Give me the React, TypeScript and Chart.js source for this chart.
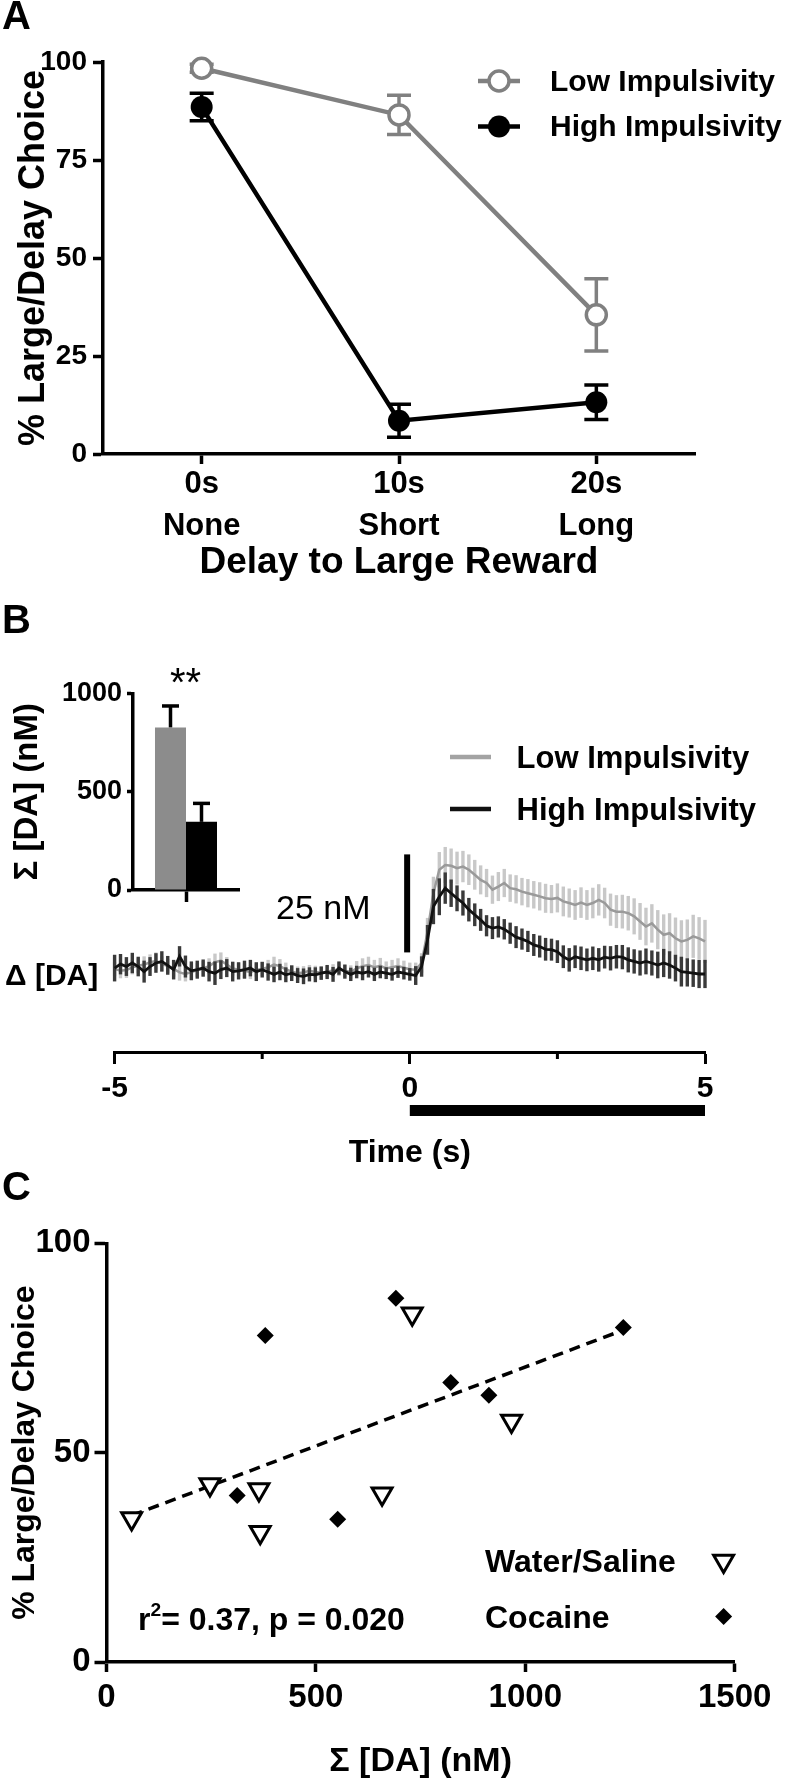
import React, { useEffect, useRef } from 'react';
import { Chart, registerables } from 'chart.js';

Chart.register(...registerables);

const FONT = "'Liberation Sans', Arial, Helvetica, sans-serif";
Chart.defaults.font.family = FONT;
Chart.defaults.color = '#000';

// ---------------- Panel A ----------------
const delayCategories = [['0s', 'None'], ['10s', 'Short'], ['20s', 'Long']];
const lowImpChoice = [98.4, 86.5, 35.5];
const lowImpSem = [1.0, 5.0, 9.2];
const highImpChoice = [88.5, 8.5, 13.2];
const highImpSem = [3.5, 4.2, 4.4];

// ---------------- Panel B inset ----------------
const insetGroups = ['Low Impulsivity', 'High Impulsivity'];
const insetSumDA = [827, 347];
const insetSumSem = [110, 94];

// ---------------- Panel B traces ----------------
const traceTime = [
  -5, -4.9, -4.8, -4.7, -4.6, -4.5, -4.4, -4.3, -4.2, -4.1,
  -4, -3.9, -3.8, -3.7, -3.6, -3.5, -3.4, -3.3, -3.2, -3.1,
  -3, -2.9, -2.8, -2.7, -2.6, -2.5, -2.4, -2.3, -2.2, -2.1,
  -2, -1.9, -1.8, -1.7, -1.6, -1.5, -1.4, -1.3, -1.2, -1.1,
  -1, -0.9, -0.8, -0.7, -0.6, -0.5, -0.4, -0.3, -0.2, -0.1,
  0, 0.1, 0.2, 0.3, 0.4, 0.5, 0.6, 0.7, 0.8, 0.9,
  1, 1.1, 1.2, 1.3, 1.4, 1.5, 1.6, 1.7, 1.8, 1.9,
  2, 2.1, 2.2, 2.3, 2.4, 2.5, 2.6, 2.7, 2.8, 2.9,
  3, 3.1, 3.2, 3.3, 3.4, 3.5, 3.6, 3.7, 3.8, 3.9,
  4, 4.1, 4.2, 4.3, 4.4, 4.5, 4.6, 4.7, 4.8, 4.9,
  5,
];
const highTrace = [
  0.7, 1.7, 1.1, 2.0, 1.1, -0.2, 1.1, 2.0, 2.4, 1.4,
  0.3, 3.7, 1.1, 0.0, 0.3, 0.7, -0.2, -0.6, 0.3, 0.7,
  -0.2, 0.0, 0.3, 0.7, -0.2, 0.3, -0.3, -0.9, -0.3, -1.0,
  -0.6, -1.2, -1.4, -0.9, -1.0, -0.6, -0.3, -0.9, 0.7, -0.2,
  -0.9, -0.3, -0.6, -0.2, -0.9, -0.3, -0.6, -0.9, -0.3, -0.6,
  -0.9, -1.2, 1.1, 7.9, 16.4, 18.9, 21.1, 19.8, 18.5, 17.3,
  15.6, 14.3, 13.0, 11.5, 10.9, 11.2, 10.6, 9.6, 8.6, 8.1,
  7.5, 6.6, 6.2, 5.5, 5.4, 4.9, 3.6, 2.8, 3.6, 3.2,
  2.8, 3.2, 2.8, 3.5, 3.2, 3.6, 3.5, 2.8, 2.4, 2.0,
  2.4, 2.0, 1.5, 2.0, 1.5, 0.7, -0.2, -0.4, -0.6, -0.8,
  -0.8,
];
const highTraceSem = [
  3.4, 2.6, 2.4, 2.6, 2.5, 2.8, 2.4, 2.5, 2.6, 2.4,
  2.5, 2.6, 2.8, 2.4, 2.3, 2.2, 2.5, 3.0, 2.4, 2.3,
  2.5, 2.2, 2.3, 2.1, 2.4, 2.0, 2.2, 2.0, 2.1, 1.9,
  2.0, 1.9, 2.0, 1.8, 1.9, 1.7, 1.8, 1.9, 1.7, 1.8,
  1.7, 1.6, 1.8, 1.5, 1.7, 1.6, 1.5, 1.6, 1.5, 1.6,
  1.6, 2.4, 2.6, 3.8, 4.5, 4.7, 4.0, 3.5, 3.3, 3.2,
  3.0, 2.9, 2.8, 2.7, 2.8, 2.7, 2.6, 2.7, 2.8, 2.7,
  2.7, 2.8, 2.8, 2.9, 2.8, 2.9, 2.9, 3.0, 2.9, 3.0,
  2.9, 3.0, 3.0, 2.9, 3.1, 3.0, 3.1, 3.2, 3.1, 3.2,
  3.3, 3.2, 3.4, 3.6, 3.5, 3.4, 3.8, 3.6, 3.5, 3.6,
  3.6,
];
const lowTrace = [
  0.5, 0.0, 0.2, 0.9, 1.3, 1.6, 2.2, 2.5, 1.8, 1.2,
  0.5, -0.4, -0.8, -0.3, 0.2, 0.6, 1.2, 2.2, 2.6, 1.6,
  0.6, 0.3, 0.0, -0.3, 0.2, 0.5, 0.9, 1.6, 1.2, 0.4,
  -0.2, -0.6, -0.4, 0.0, -0.3, -0.5, -0.2, 0.1, 0.4, 0.0,
  -0.3, 0.6, 1.2, 1.5, 0.9, 1.3, 0.6, 0.9, 1.2, 0.8,
  0.4, 0.3, 2.0, 10.0, 19.8, 25.8, 27.0, 26.8, 26.2, 26.6,
  25.8, 24.5, 23.2, 22.4, 20.7, 21.5, 22.4, 21.1, 20.8, 20.2,
  19.8, 19.4, 19.0, 18.5, 18.3, 18.6, 17.7, 17.3, 16.8, 17.4,
  16.8, 17.3, 18.1, 17.3, 15.6, 15.1, 15.1, 14.7, 13.9, 12.6,
  11.3, 12.1, 10.5, 9.2, 9.6, 8.3, 7.5, 7.9, 8.8, 8.3,
  7.5,
];
const lowTraceSem = [
  1.8, 1.9, 2.0, 1.8, 1.9, 2.1, 2.0, 2.2, 1.9, 1.8,
  2.0, 2.1, 1.9, 2.0, 1.8, 1.9, 2.0, 2.2, 2.1, 1.9,
  1.8, 1.7, 1.9, 1.8, 1.7, 1.8, 1.9, 2.0, 1.8, 1.7,
  1.6, 1.7, 1.6, 1.5, 1.6, 1.7, 1.5, 1.6, 1.7, 1.6,
  1.7, 1.9, 2.0, 2.1, 1.9, 2.0, 1.8, 1.9, 2.0, 1.8,
  1.7, 1.8, 2.5, 3.5, 4.2, 4.5, 4.6, 4.4, 4.2, 4.0,
  3.9, 3.8, 3.7, 3.6, 3.6, 3.7, 3.6, 3.5, 3.6, 3.5,
  3.6, 3.5, 3.6, 3.7, 3.6, 3.7, 3.8, 3.7, 3.8, 3.9,
  3.8, 3.9, 4.0, 3.9, 4.1, 4.2, 4.3, 4.4, 4.6, 4.7,
  4.8, 4.9, 5.0, 5.2, 5.1, 5.3, 5.4, 5.2, 5.5, 5.4,
  5.5,
];
const scaleBarTime = [-0.045, -0.045];
const scaleBarNm = [4.7, 29.7];
const stimulusWindow = [0, 5];
const timeTickLabels = [-5, 0, 5];
const minorTimeTicks = [-2.5, 2.5];

// ---------------- Panel C ----------------
const salineDA = [60, 247, 364, 367, 658, 730, 967];
const salineChoice = [34.3, 42.4, 41.2, 31.0, 40.2, 83.2, 57.6];
const cocaineDA = [379, 312, 552, 691, 822, 913, 1234];
const cocaineChoice = [78.0, 39.8, 34.1, 86.9, 66.8, 63.7, 79.9];
const fitDA = [60, 1234];
const fitChoice = [35.0, 79.3];

// ---------------- helpers ----------------
const GRAY_A = '#808080';
const plain = (v: number | string) => String(v);

type ErrSpec = { index: number; err: number[]; color: string; width: number; cap: number; upOnly?: boolean };

function errorBarPlugin(id: string, specs: ErrSpec[]) {
  return {
    id,
    beforeDatasetDraw(chart: any, args: any) {
      const spec = specs.find((s) => s.index === args.index);
      if (!spec) return;
      const meta = chart.getDatasetMeta(args.index);
      const yScale = chart.scales[meta.yAxisID];
      const ds = chart.data.datasets[args.index];
      const ctx = chart.ctx;
      ctx.save();
      ctx.strokeStyle = spec.color;
      ctx.lineWidth = spec.width;
      ctx.lineCap = 'butt';
      meta.data.forEach((el: any, i: number) => {
        const raw = ds.data[i];
        const v = typeof raw === 'number' ? raw : raw.y;
        const e = spec.err[i];
        const x = el.x;
        const yTop = yScale.getPixelForValue(v + e);
        const yBot = spec.upOnly ? yScale.getPixelForValue(v) : yScale.getPixelForValue(v - e);
        ctx.beginPath();
        ctx.moveTo(x, yTop);
        ctx.lineTo(x, yBot);
        ctx.stroke();
        if (spec.cap > 0) {
          ctx.beginPath();
          ctx.moveTo(x - spec.cap / 2, yTop);
          ctx.lineTo(x + spec.cap / 2, yTop);
          if (!spec.upOnly) {
            ctx.moveTo(x - spec.cap / 2, yBot);
            ctx.lineTo(x + spec.cap / 2, yBot);
          }
          ctx.stroke();
        }
      });
      ctx.restore();
    },
  };
}

const axisGrid = (len: number, w = 3.5) => ({
  drawOnChartArea: false,
  drawTicks: true,
  tickLength: len,
  tickWidth: w,
  tickColor: '#000',
});
const axisBorder = (w = 3.5) => ({ display: true, width: w, color: '#000' });

// ---------------- configs ----------------
function configA(): any {
  const legendA = {
    id: 'legendA',
    afterDraw(chart: any) {
      const ctx = chart.ctx;
      ctx.save();
      ctx.strokeStyle = GRAY_A;
      ctx.lineWidth = 4.5;
      ctx.beginPath();
      ctx.moveTo(478, 81);
      ctx.lineTo(520, 81);
      ctx.stroke();
      ctx.fillStyle = '#fff';
      ctx.lineWidth = 3.5;
      ctx.beginPath();
      ctx.arc(499, 81, 10, 0, Math.PI * 2);
      ctx.fill();
      ctx.stroke();
      ctx.strokeStyle = '#000';
      ctx.lineWidth = 4.5;
      ctx.beginPath();
      ctx.moveTo(478, 126.5);
      ctx.lineTo(520, 126.5);
      ctx.stroke();
      ctx.fillStyle = '#000';
      ctx.beginPath();
      ctx.arc(499, 126.5, 11, 0, Math.PI * 2);
      ctx.fill();
      ctx.restore();
    },
  };
  return {
    type: 'line',
    data: {
      labels: delayCategories,
      datasets: [
        {
          label: 'High Impulsivity',
          data: highImpChoice,
          borderColor: '#000',
          borderWidth: 4.5,
          pointRadius: 11,
          pointBorderWidth: 0,
          pointBackgroundColor: '#000',
          pointBorderColor: '#000',
          clip: false,
        },
        {
          label: 'Low Impulsivity',
          data: lowImpChoice,
          borderColor: GRAY_A,
          borderWidth: 4.5,
          pointRadius: 10,
          pointBorderWidth: 3.5,
          pointBackgroundColor: '#fff',
          pointBorderColor: GRAY_A,
          clip: false,
        },
      ],
    },
    options: {
      animation: false,
      responsive: false,
      layout: { padding: { top: 62, right: 93, left: 0, bottom: 0 } },
      plugins: { legend: { display: false }, tooltip: { enabled: false } },
      scales: {
        x: {
          type: 'category',
          offset: true,
          border: axisBorder(),
          grid: axisGrid(10),
          ticks: { color: '#000', font: { size: 31, weight: 'bold', lineHeight: 1.35 }, padding: 0, maxRotation: 0, autoSkip: false },
          title: { display: true, text: 'Delay to Large Reward', color: '#000', font: { size: 37, weight: 'bold' }, padding: { top: 0, bottom: 5 } },
          afterFit: (s: any) => { s.height = 136; },
        },
        y: {
          min: 0,
          max: 100,
          border: axisBorder(),
          grid: axisGrid(10),
          ticks: { stepSize: 25, color: '#000', font: { size: 28, weight: 'bold' }, padding: 6, callback: plain },
          title: { display: true, text: '% Large/Delay Choice', color: '#000', font: { size: 36, weight: 'bold' }, padding: { top: 12, bottom: 0 } },
          afterFit: (s: any) => { s.width = 103; },
        },
      },
    },
    plugins: [
      errorBarPlugin('errA', [
        { index: 0, err: highImpSem, color: '#000', width: 3.5, cap: 24 },
        { index: 1, err: lowImpSem, color: GRAY_A, width: 3.5, cap: 24 },
      ]),
      legendA,
    ],
  };
}

function configInset(): any {
  return {
    type: 'bar',
    data: {
      labels: [''],
      datasets: [
        { label: insetGroups[0], data: [insetSumDA[0]], backgroundColor: '#8c8c8c', barPercentage: 1, categoryPercentage: 0.585 },
        { label: insetGroups[1], data: [insetSumDA[1]], backgroundColor: '#000', barPercentage: 1, categoryPercentage: 0.585 },
      ],
    },
    options: {
      animation: false,
      responsive: false,
      layout: { padding: { top: 53.6, right: 21, left: 0, bottom: 0 } },
      plugins: { legend: { display: false }, tooltip: { enabled: false } },
      scales: {
        x: {
          offset: true,
          border: axisBorder(3.5),
          grid: { ...axisGrid(12), offset: false },
          ticks: { display: true },
          afterFit: (s: any) => { s.height = 40; },
        },
        y: {
          min: 0,
          max: 1000,
          border: axisBorder(3.5),
          grid: axisGrid(6),
          ticks: { stepSize: 500, color: '#000', font: { size: 27, weight: 'bold' }, padding: 5, callback: plain },
          title: { display: true, text: 'Σ [DA] (nM)', color: '#000', font: { size: 33, weight: 'bold' }, padding: { top: 8, bottom: 0 } },
          afterFit: (s: any) => { s.width = 133; },
        },
      },
    },
    plugins: [
      errorBarPlugin('errInset', [
        { index: 0, err: [insetSumSem[0]], color: '#000', width: 3.5, cap: 17, upOnly: true },
        { index: 1, err: [insetSumSem[1]], color: '#000', width: 3.5, cap: 17, upOnly: true },
      ]),
    ],
  };
}

function configTrace(): any {
  const extras = {
    id: 'traceExtras',
    afterDraw(chart: any) {
      const ctx = chart.ctx;
      const xs = chart.scales.x;
      const bottom = chart.chartArea.bottom;
      ctx.save();
      ctx.strokeStyle = '#000';
      ctx.lineWidth = 3;
      minorTimeTicks.forEach((v) => {
        const x = xs.getPixelForValue(v);
        ctx.beginPath();
        ctx.moveTo(x, bottom);
        ctx.lineTo(x, bottom + 7);
        ctx.stroke();
      });
      const x0 = xs.getPixelForValue(stimulusWindow[0]);
      const x1 = xs.getPixelForValue(stimulusWindow[1]);
      ctx.fillStyle = '#000';
      ctx.fillRect(x0, bottom + 53, x1 - x0, 11);
      ctx.lineWidth = 4.5;
      ctx.strokeStyle = '#a3a3a3';
      ctx.beginPath();
      ctx.moveTo(450, 27);
      ctx.lineTo(491, 27);
      ctx.stroke();
      ctx.strokeStyle = '#111';
      ctx.beginPath();
      ctx.moveTo(450, 79);
      ctx.lineTo(491, 79);
      ctx.stroke();
      ctx.restore();
    },
  };
  return {
    type: 'line',
    data: {
      datasets: [
        {
          label: 'High Impulsivity',
          data: traceTime.map((t, i) => ({ x: t, y: highTrace[i] })),
          borderColor: '#111',
          borderWidth: 2.8,
          pointRadius: 0,
          clip: false,
        },
        {
          label: 'Low Impulsivity',
          data: traceTime.map((t, i) => ({ x: t, y: lowTrace[i] })),
          borderColor: '#9a9a9a',
          borderWidth: 2.5,
          pointRadius: 0,
          clip: false,
        },
        {
          label: '25 nM',
          data: scaleBarTime.map((t, i) => ({ x: t, y: scaleBarNm[i] })),
          borderColor: '#000',
          borderWidth: 6,
          borderCapStyle: 'butt',
          pointRadius: 0,
          clip: false,
        },
      ],
    },
    options: {
      animation: false,
      responsive: false,
      layout: { padding: { left: 114.6, right: 83, top: 109.5, bottom: 0 } },
      plugins: { legend: { display: false }, tooltip: { enabled: false } },
      scales: {
        x: {
          type: 'linear',
          min: -5,
          max: 5,
          border: axisBorder(3),
          grid: {
            drawOnChartArea: false,
            tickLength: 12,
            tickWidth: 3,
            tickColor: (c: any) => (timeTickLabels.includes(c.tick?.value) ? '#000' : 'rgba(0,0,0,0)'),
          },
          ticks: {
            stepSize: 2.5,
            autoSkip: false,
            maxRotation: 0,
            padding: 7,
            color: '#000',
            font: { size: 30, weight: 'bold' },
            callback: (v: number) => (timeTickLabels.includes(v) ? String(v) : ''),
          },
          title: { display: true, text: 'Time (s)', color: '#000', font: { size: 32, weight: 'bold' }, padding: { top: 0, bottom: 0 } },
          afterFit: (s: any) => { s.height = 120; },
        },
        y: { display: false, min: -20.7, max: 33.5 },
      },
    },
    plugins: [
      errorBarPlugin('errTrace', [
        { index: 0, err: highTraceSem, color: '#3a3a3a', width: 3.4, cap: 0 },
        { index: 1, err: lowTraceSem, color: '#c8c8c8', width: 3.4, cap: 0 },
      ]),
      extras,
    ],
  };
}

function configC(): any {
  const legendC = {
    id: 'legendC',
    afterDraw(chart: any) {
      const ctx = chart.ctx;
      ctx.save();
      const r = 11.5;
      const cx = 723.6;
      const cy = 361;
      ctx.beginPath();
      ctx.moveTo(cx, cy + r);
      ctx.lineTo(cx - r * Math.sin(Math.PI / 3), cy - r / 2);
      ctx.lineTo(cx + r * Math.sin(Math.PI / 3), cy - r / 2);
      ctx.closePath();
      ctx.fillStyle = '#fff';
      ctx.fill();
      ctx.strokeStyle = '#000';
      ctx.lineWidth = 3;
      ctx.stroke();
      const d = 8.5;
      const dy = 416.6;
      ctx.beginPath();
      ctx.moveTo(cx, dy - d);
      ctx.lineTo(cx + d, dy);
      ctx.lineTo(cx, dy + d);
      ctx.lineTo(cx - d, dy);
      ctx.closePath();
      ctx.fillStyle = '#000';
      ctx.fill();
      ctx.restore();
    },
  };
  return {
    type: 'scatter',
    data: {
      datasets: [
        {
          label: 'Water/Saline',
          data: salineDA.map((x, i) => ({ x, y: salineChoice[i] })),
          pointStyle: 'triangle',
          pointRotation: 180,
          pointRadius: 11.5,
          pointBorderWidth: 3,
          pointBackgroundColor: '#fff',
          pointBorderColor: '#000',
          clip: false,
        },
        {
          label: 'Cocaine',
          data: cocaineDA.map((x, i) => ({ x, y: cocaineChoice[i] })),
          pointStyle: 'rectRot',
          pointRadius: 8.5,
          pointBorderWidth: 0,
          pointBackgroundColor: '#000',
          pointBorderColor: '#000',
          clip: false,
        },
        {
          type: 'line',
          label: 'Linear fit',
          data: fitDA.map((x, i) => ({ x, y: fitChoice[i] })),
          borderColor: '#000',
          borderWidth: 3.5,
          borderDash: [11, 7],
          pointRadius: 0,
          clip: false,
        },
      ],
    },
    options: {
      animation: false,
      responsive: false,
      layout: { padding: { top: 43.4, right: 53.3, left: 0, bottom: 0 } },
      plugins: { legend: { display: false }, tooltip: { enabled: false } },
      scales: {
        x: {
          type: 'linear',
          min: 0,
          max: 1500,
          border: axisBorder(),
          grid: axisGrid(10),
          ticks: { stepSize: 500, color: '#000', font: { size: 33, weight: 'bold' }, padding: 6, maxRotation: 0, callback: plain },
          title: { display: true, text: 'Σ [DA] (nM)', color: '#000', font: { size: 34, weight: 'bold' }, padding: { top: 0, bottom: 0 } },
          afterFit: (s: any) => { s.height = 120; },
        },
        y: {
          min: 0,
          max: 100,
          border: axisBorder(),
          grid: axisGrid(12),
          ticks: { stepSize: 50, color: '#000', font: { size: 33, weight: 'bold' }, padding: 4, callback: plain },
          title: { display: true, text: '% Large/Delay Choice', color: '#000', font: { size: 32, weight: 'bold' }, padding: { top: 6, bottom: 0 } },
          afterFit: (s: any) => { s.width = 106.5; },
        },
      },
    },
    plugins: [legendC],
  };
}

// ---------------- components ----------------
type TProps = { x: number; y: number; size: number; bold?: boolean; children: React.ReactNode };
function T({ x, y, size, bold = true, children }: TProps) {
  return (
    <div
      style={{
        position: 'absolute',
        left: x,
        top: y,
        transform: 'translateY(-50%)',
        fontSize: size,
        lineHeight: 1,
        fontWeight: bold ? 700 : 400,
        fontFamily: FONT,
        whiteSpace: 'nowrap',
        color: '#000',
      }}
    >
      {children}
    </div>
  );
}

export default function App() {
  const refA = useRef<HTMLCanvasElement>(null);
  const refInset = useRef<HTMLCanvasElement>(null);
  const refTrace = useRef<HTMLCanvasElement>(null);
  const refC = useRef<HTMLCanvasElement>(null);

  useEffect(() => {
    const charts = [
      new Chart(refA.current as HTMLCanvasElement, configA()),
      new Chart(refInset.current as HTMLCanvasElement, configInset()),
      new Chart(refTrace.current as HTMLCanvasElement, configTrace()),
      new Chart(refC.current as HTMLCanvasElement, configC()),
    ];
    return () => charts.forEach((c) => c.destroy());
  }, []);

  const cv = (left: number, top: number, w: number, h: number): React.CSSProperties => ({
    position: 'absolute',
    left,
    top,
    width: w,
    height: h,
  });

  return (
    <div style={{ position: 'absolute', left: 0, top: 0, width: 788, height: 1782, background: '#fff', overflow: 'hidden' }}>
      <canvas ref={refA} width={788} height={590} style={cv(0, 0, 788, 590)} />
      <canvas ref={refTrace} width={788} height={442} style={cv(0, 730, 788, 442)} />
      <canvas ref={refInset} width={260} height={290} style={cv(0, 640, 260, 290)} />
      <canvas ref={refC} width={788} height={582} style={cv(0, 1200, 788, 582)} />

      <T x={2} y={15} size={40}>A</T>
      <T x={550} y={80.5} size={30}>Low Impulsivity</T>
      <T x={550} y={126} size={30}>High Impulsivity</T>

      <T x={2} y={619} size={40}>B</T>
      <T x={170} y={682} size={40} bold={false}>**</T>
      <T x={516.6} y={757} size={31}>Low Impulsivity</T>
      <T x={516.6} y={809} size={31}>High Impulsivity</T>
      <T x={276} y={907} size={34} bold={false}>25 nM</T>
      <T x={5} y={975} size={30}>Δ [DA]</T>

      <T x={2} y={1186} size={40}>C</T>
      <T x={485} y={1561} size={32}>Water/Saline</T>
      <T x={485} y={1617} size={32}>Cocaine</T>
      <T x={138} y={1619} size={32}>
        r<sup style={{ fontSize: '0.6em', lineHeight: 0, verticalAlign: '0.75em' }}>2</sup>= 0.37, p = 0.020
      </T>
    </div>
  );
}
